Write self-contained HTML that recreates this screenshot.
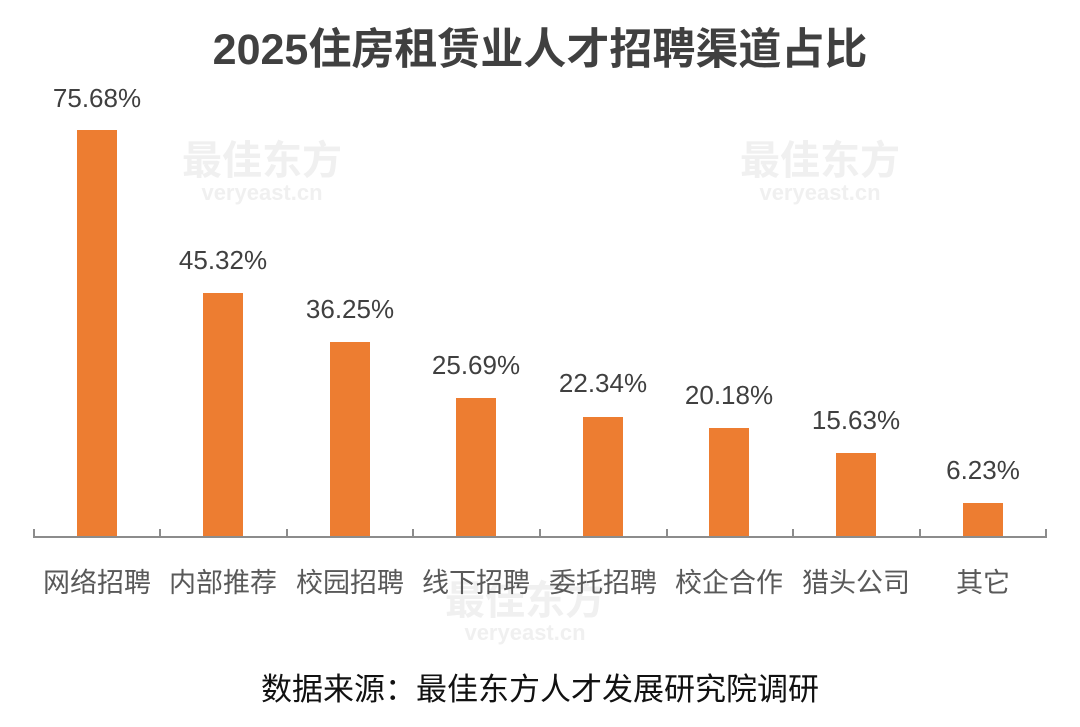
<!DOCTYPE html>
<html><head><meta charset="utf-8"><style>
body{margin:0;background:#fff;}
svg{display:block}
text{font-family:"Liberation Sans","Noto Sans CJK SC",sans-serif;}
</style></head><body>
<svg width="1080" height="727" viewBox="0 0 1080 727">
<rect width="1080" height="727" fill="#fff"/>
<g fill="#f0f0f0" font-weight="bold" text-anchor="middle">
<text x="262" y="174" font-size="40">最佳东方</text>
<text x="262" y="200" font-size="22">veryeast.cn</text>
<text x="820" y="174" font-size="40">最佳东方</text>
<text x="820" y="200" font-size="22">veryeast.cn</text>
<text x="525" y="614" font-size="40">最佳东方</text>
<text x="525" y="640" font-size="22">veryeast.cn</text>
</g>
<text x="540" y="64" font-size="43" font-weight="bold" fill="#404040" text-anchor="middle">2025住房租赁业人才招聘渠道占比</text>
<g fill="#ed7d31">
<rect x="77" y="130" width="40" height="407"/>
<rect x="203" y="293" width="40" height="244"/>
<rect x="330" y="342" width="40" height="195"/>
<rect x="456" y="398" width="40" height="139"/>
<rect x="583" y="417" width="40" height="120"/>
<rect x="709" y="428" width="40" height="109"/>
<rect x="836" y="453" width="40" height="84"/>
<rect x="963" y="503" width="40" height="34"/>
</g>
<g stroke="#8c8c8c" stroke-width="2" fill="none">
<line x1="33" y1="537" x2="1047" y2="537"/>
<path d="M34 529V537M160 529V537M287 529V537M413 529V537M540 529V537M667 529V537M793 529V537M920 529V537M1046 529V537"/>
</g>
<g font-size="26" fill="#404040" text-anchor="middle">
<text x="97" y="107">75.68%</text>
<text x="223" y="269">45.32%</text>
<text x="350" y="318">36.25%</text>
<text x="476" y="374">25.69%</text>
<text x="603" y="392">22.34%</text>
<text x="729" y="404">20.18%</text>
<text x="856" y="429">15.63%</text>
<text x="983" y="479">6.23%</text>
</g>
<g font-size="27" fill="#595959" text-anchor="middle">
<text x="97" y="592">网络招聘</text>
<text x="223" y="592">内部推荐</text>
<text x="350" y="592">校园招聘</text>
<text x="476" y="592">线下招聘</text>
<text x="603" y="592">委托招聘</text>
<text x="729" y="592">校企合作</text>
<text x="856" y="592">猎头公司</text>
<text x="983" y="592">其它</text>
</g>
<text x="540" y="700" font-size="31" fill="#111" text-anchor="middle">数据来源：最佳东方人才发展研究院调研</text>
</svg>
</body></html>
